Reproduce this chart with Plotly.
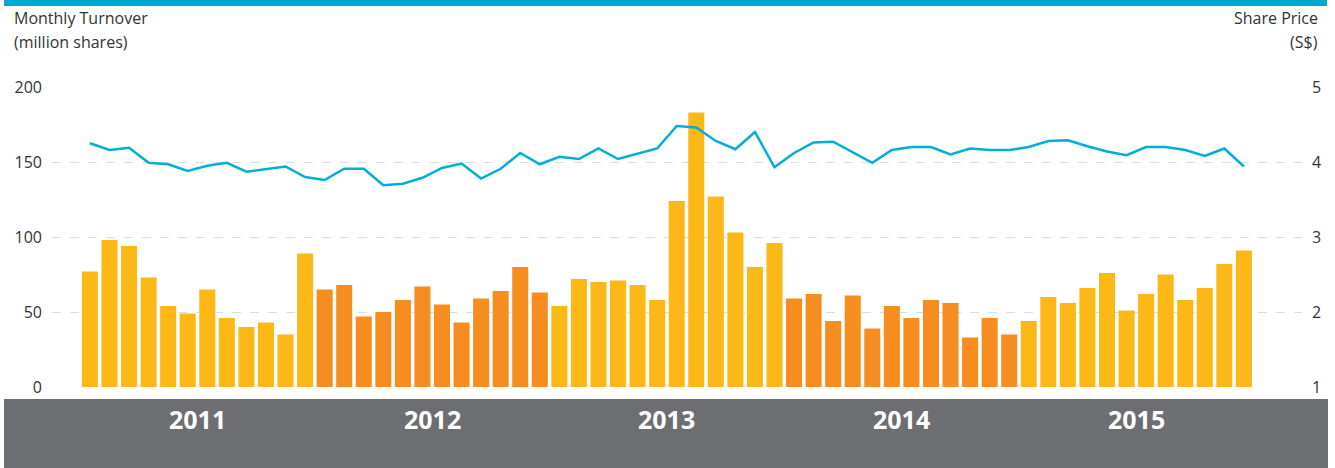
import plotly.graph_objects as go

years = ["2011", "2012", "2013", "2014", "2015"]
months_per_year = 12

turnover = [
    77, 98, 94, 73, 54, 49, 65, 46, 40, 43, 35, 89,      # 2011
    65, 68, 47, 50, 58, 67, 55, 43, 59, 64, 80, 63,      # 2012
    54, 72, 70, 71, 68, 58, 124, 183, 127, 103, 80, 96,  # 2013
    59, 62, 44, 61, 39, 54, 46, 58, 56, 33, 46, 35,      # 2014
    44, 60, 56, 66, 76, 51, 62, 75, 58, 66, 82, 91,      # 2015
]

share_price = [
    4.25, 4.16, 4.19, 3.99, 3.97, 3.88, 3.95, 3.99, 3.87, 3.91, 3.94, 3.80,
    3.76, 3.91, 3.91, 3.69, 3.71, 3.79, 3.92, 3.98, 3.78, 3.91, 4.12, 3.97,
    4.07, 4.04, 4.18, 4.04, 4.11, 4.18, 4.48, 4.46, 4.28, 4.17, 4.40, 3.93,
    4.12, 4.26, 4.27, 4.13, 3.99, 4.16, 4.20, 4.20, 4.10, 4.18, 4.16, 4.16,
    4.20, 4.28, 4.29, 4.21, 4.14, 4.09, 4.20, 4.20, 4.16, 4.08, 4.18, 3.94,
]

left_ticks = [0, 50, 100, 150, 200]
right_ticks = [1, 2, 3, 4, 5]

year_colors = ["#FBB817", "#F58D21"]

x = list(range(len(turnover)))
bar_colors = [year_colors[(i // months_per_year) % 2] for i in x]

W, H = 1335, 468
L, R = 52, 1302
T, B = 87, 387
FONT = "Open Sans"
TXT = "#333333"

fig = go.Figure()
fig.add_trace(go.Bar(x=x, y=turnover, marker=dict(color=bar_colors, line=dict(width=0)),
                     yaxis="y", hoverinfo="y", showlegend=False))
fig.add_trace(go.Scatter(x=x, y=share_price, mode="lines", yaxis="y2",
                         line=dict(color="#00AED8", width=2.5), showlegend=False))

grid = dict(showgrid=True, gridcolor="#D5DEE8", griddash="dash", gridwidth=1)

fig.update_layout(
    width=W, height=H,
    margin=dict(l=L, r=W - R, t=T, b=H - B, pad=0),
    paper_bgcolor="white", plot_bgcolor="white",
    bargap=0.18,
    font=dict(family=FONT, color=TXT, size=16),
    xaxis=dict(range=[-1.94, 61.97], showticklabels=False, showgrid=False,
               zeroline=False, showline=False, fixedrange=True),
    yaxis=dict(range=[0, 200], tickvals=left_ticks, zeroline=False, showline=False,
               ticks="", ticklabelstandoff=9, tickfont=dict(size=16, color=TXT), **grid),
    yaxis2=dict(range=[1, 5], tickvals=right_ticks, overlaying="y", side="right",
                zeroline=False, showline=False, showgrid=False, ticks="",
                ticklabelstandoff=9, tickfont=dict(size=16, color=TXT)),
)

shapes = [
    dict(type="rect", xref="paper", yref="paper",
         x0=(4 - L) / (R - L), x1=(1328 - L) / (R - L),
         y0=(B - 468) / (B - T), y1=(B - 399) / (B - T),
         fillcolor="#6D6E72", line=dict(width=0), layer="below"),
    dict(type="rect", xref="paper", yref="paper",
         x0=(4 - L) / (R - L), x1=(1327 - L) / (R - L),
         y0=(B - 6) / (B - T), y1=(B - 0) / (B - T),
         fillcolor="#00A9D4", line=dict(width=0)),
]
fig.update_layout(shapes=shapes)

annotations = []
for k, yr in enumerate(years):
    annotations.append(dict(
        x=k * months_per_year + (months_per_year - 1) / 2, xref="x",
        y=(B - 418.5) / (B - T), yref="paper", yanchor="middle",
        text=f"<b>{yr}</b>", showarrow=False,
        font=dict(size=25, color="white", family=FONT)))

annotations += [
    dict(x=(12 - L) / (R - L), xref="paper", xanchor="left",
         y=(B - 18) / (B - T), yref="paper", yanchor="middle",
         text="Monthly Turnover", showarrow=False, font=dict(size=16, color=TXT)),
    dict(x=(12 - L) / (R - L), xref="paper", xanchor="left",
         y=(B - 42) / (B - T), yref="paper", yanchor="middle",
         text="(million shares)", showarrow=False, font=dict(size=16, color=TXT)),
    dict(x=(1320 - L) / (R - L), xref="paper", xanchor="right",
         y=(B - 18) / (B - T), yref="paper", yanchor="middle",
         text="Share Price", showarrow=False, font=dict(size=16, color=TXT)),
    dict(x=(1320 - L) / (R - L), xref="paper", xanchor="right",
         y=(B - 42) / (B - T), yref="paper", yanchor="middle",
         text="(S$)", showarrow=False, font=dict(size=16, color=TXT)),
]
fig.update_layout(annotations=annotations)

fig.write_html("out.html", config={"displayModeBar": False},
               post_script="document.body.style.margin='0';document.body.style.padding='0';")
